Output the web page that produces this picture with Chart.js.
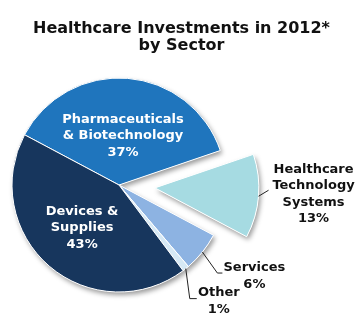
<!DOCTYPE html>
<html><head><meta charset="utf-8">
<script src="https://cdn.jsdelivr.net/npm/chart.js@4"></script>
<style>html,body{margin:0;padding:0;background:#fff;overflow:hidden}</style>
</head><body>
<canvas id="c" width="363" height="324"></canvas>
<script>
const titleLines = ['Healthcare Investments in 2012*', 'by Sector'];
const categories = ['Pharmaceuticals & Biotechnology', 'Healthcare Technology Systems', 'Services', 'Other', 'Devices & Supplies'];
const labelLines = [['Pharmaceuticals', '& Biotechnology'], ['Healthcare', 'Technology', 'Systems'], ['Services'], ['Other'], ['Devices &', 'Supplies']];
const shares = [37, 13, 6, 1, 43];
const colors = ['#1f75bd', '#a6dbe2', '#8db3e2', '#d6e9f5', '#17365d'];

const FONT = '"DejaVu Sans", Verdana, sans-serif';

const titlePlugin = {
  id: 'titleText',
  afterDraw(chart) {
    const ctx = chart.ctx;
    ctx.save();
    ctx.fillStyle = '#111';
    ctx.font = 'bold 16px ' + FONT;
    ctx.textAlign = 'center';
    ctx.textBaseline = 'alphabetic';
    titleLines.forEach((t, i) => ctx.fillText(t, chart.width / 2, 33 + i * 17));
    ctx.restore();
  }
};

const explodePlugin = {
  id: 'explode',
  afterDatasetsUpdate(chart) {
    const arc = chart.getDatasetMeta(0).data[1];
    const mid = (arc.startAngle + arc.endAngle) / 2;
    arc.x += Math.cos(mid) * 36;
    arc.y += Math.sin(mid) * 36;
    arc.outerRadius = arc.outerRadius - 3;
  }
};

// soft drop shadow under the slices (drawn as a pass before the slices)
const shadowPlugin = {
  id: 'shadow',
  beforeDatasetsDraw(chart) {
    const ctx = chart.ctx;
    ctx.save();
    ctx.shadowColor = 'rgba(0,0,0,0.4)';
    ctx.shadowBlur = 5;
    ctx.shadowOffsetX = 2;
    ctx.shadowOffsetY = 3;
    ctx.fillStyle = '#ffffff';
    chart.getDatasetMeta(0).data.forEach(a => {
      ctx.beginPath();
      ctx.moveTo(a.x, a.y);
      ctx.arc(a.x, a.y, a.outerRadius, a.startAngle, a.endAngle);
      ctx.closePath();
      ctx.fill();
    });
    ctx.restore();
  }
};

const labelPlugin = {
  id: 'sliceLabels',
  afterDatasetsDraw(chart) {
    const ctx = chart.ctx;
    const arcs = chart.getDatasetMeta(0).data;
    ctx.save();
    ctx.font = 'bold 13px ' + FONT;
    ctx.textAlign = 'center';
    ctx.textBaseline = 'middle';
    const lh = 16.6;
    const pct = i => shares[i] + '%';
    const midOf = a => (a.startAngle + a.endAngle) / 2;
    const edge = (a, r) => { const m = midOf(a); return {x: a.x + Math.cos(m) * r, y: a.y + Math.sin(m) * r}; };
    // inside labels
    [[0, 0.46], [4, 0.53]].forEach(([i, f]) => {
      const a = arcs[i];
      const lines = labelLines[i].concat([pct(i)]);
      const p = edge(a, a.outerRadius * f);
      ctx.fillStyle = '#ffffff';
      const y0 = p.y - (lines.length - 1) * lh / 2;
      lines.forEach((t, k) => ctx.fillText(t, p.x, y0 + k * lh));
    });
    // outside labels with leader lines
    ctx.strokeStyle = '#222';
    ctx.lineWidth = 1;
    ctx.fillStyle = '#111';
    const outside = [
      {i: 1, leader: [[10, -6]], tx: 55, ty: -27},
      {i: 2, leader: [[15, 21], [20, 21]], tx: 52, ty: 16},
      {i: 3, leader: [[4, 30], [11, 30]], tx: 33, ty: 24.5}
    ];
    outside.forEach(o => {
      const a = arcs[o.i];
      const p = edge(a, a.outerRadius);
      ctx.beginPath();
      ctx.moveTo(p.x, p.y);
      o.leader.forEach(([dx, dy]) => ctx.lineTo(p.x + dx, p.y + dy));
      ctx.stroke();
      const lines = labelLines[o.i].concat([pct(o.i)]);
      lines.forEach((t, k) => ctx.fillText(t, p.x + o.tx, p.y + o.ty + k * lh));
    });
    ctx.restore();
  }
};

new Chart(document.getElementById('c'), {
  type: 'pie',
  data: {
    labels: categories,
    datasets: [{
      data: shares,
      backgroundColor: colors,
      borderColor: '#ffffff',
      borderWidth: 1
    }]
  },
  options: {
    responsive: false,
    devicePixelRatio: 1,
    animation: false,
    rotation: 298,
    radius: 107,
    layout: {padding: {left: 0, right: 125, top: 58, bottom: 12}},
    plugins: {
      legend: {display: false},
      tooltip: {enabled: false},
      title: {display: false}
    }
  },
  plugins: [explodePlugin, shadowPlugin, labelPlugin, titlePlugin]
});
</script>
</body></html>
